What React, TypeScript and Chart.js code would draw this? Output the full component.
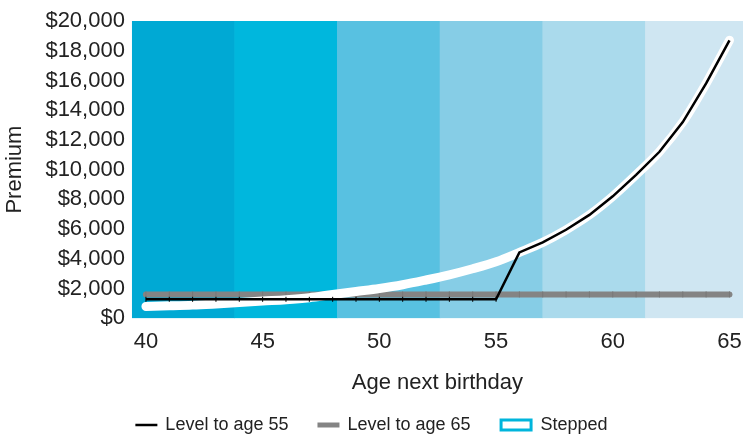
import React, { useEffect, useRef } from 'react';
import { Chart, registerables } from 'chart.js';

Chart.register(...registerables);

// ---- Data ----
const ages = [40, 41, 42, 43, 44, 45, 46, 47, 48, 49, 50, 51, 52, 53, 54, 55, 56, 57, 58, 59, 60, 61, 62, 63, 64, 65];

const steppedPremium = [790, 830, 880, 960, 1050, 1150, 1240, 1380, 1600, 1800, 2000, 2250, 2570, 2920, 3330, 3800, 4430, 5100, 5950, 6950, 8200, 9650, 11200, 13200, 15800, 18700];

const level55Premium = [1270, 1270, 1270, 1270, 1270, 1270, 1270, 1270, 1270, 1270, 1270, 1270, 1270, 1270, 1270, 1270, 4430, 5100, 5950, 6950, 8200, 9650, 11200, 13200, 15800, 18700];

const level65Premium = [1600, 1600, 1600, 1600, 1600, 1600, 1600, 1600, 1600, 1600, 1600, 1600, 1600, 1600, 1600, 1600, 1600, 1600, 1600, 1600, 1600, 1600, 1600, 1600, 1600, 1600];

// background age bands (centre age of each band, band top value)
const bandCenters = [41.6, 46.0, 50.4, 54.8, 59.2, 63.6];
const bandValues = [20000, 20000, 20000, 20000, 20000, 20000];
const bandColors = ['#00A9D4', '#00B7DD', '#58C1E1', '#86CDE6', '#AADAEC', '#CFE6F2'];

const xTickValues = [40, 45, 50, 55, 60, 65];
const xMin = 39.4;
const xMax = 65.58;
const yMin = 0;
const yMax = 20000;
const yStep = 2000;

const seriesNames = ['Level to age 55', 'Level to age 65', 'Stepped'];

const TEXT = '#222222';
const FONT = "'Liberation Sans', Arial, Helvetica, sans-serif";

const BLACK = '#000000';
const GREY = '#848484';
const WHITE = '#FFFFFF';
const CYAN = '#00B5DC';

// Legend drawn with the plugin API (line samples and a wider box sample)
const legendSamples = [
  { kind: 'line', color: BLACK, lw: 2.5, w: 22 },
  { kind: 'line', color: GREY, lw: 5, w: 22 },
  { kind: 'box', color: CYAN, fill: WHITE, lw: 3, w: 33, h: 13 },
];

const customLegend = {
  id: 'customLegend',
  afterDraw(chart: any) {
    const ctx = chart.ctx as CanvasRenderingContext2D;
    ctx.save();
    const fontSize = 18;
    ctx.font = `${fontSize}px ${FONT}`;
    const gapSampleText = 8;
    const gapItems = 29;
    const widths = seriesNames.map((t) => ctx.measureText(t).width);
    let total = 0;
    legendSamples.forEach((s, i) => {
      total += s.w + gapSampleText + widths[i];
    });
    total += gapItems * (seriesNames.length - 1);
    let x = (chart.width - total) / 2;
    const y = 425;
    legendSamples.forEach((s: any, i) => {
      if (s.kind === 'line') {
        ctx.beginPath();
        ctx.strokeStyle = s.color;
        ctx.lineWidth = s.lw;
        ctx.lineCap = 'butt';
        ctx.moveTo(x, y);
        ctx.lineTo(x + s.w, y);
        ctx.stroke();
      } else {
        const half = s.lw / 2;
        ctx.fillStyle = s.fill;
        ctx.fillRect(x + half, y - s.h / 2 + half, s.w - s.lw, s.h - s.lw);
        ctx.strokeStyle = s.color;
        ctx.lineWidth = s.lw;
        ctx.strokeRect(x + half, y - s.h / 2 + half, s.w - s.lw, s.h - s.lw);
      }
      x += s.w + gapSampleText;
      ctx.fillStyle = TEXT;
      ctx.textBaseline = 'middle';
      ctx.textAlign = 'left';
      ctx.fillText(seriesNames[i], x, y);
      x += widths[i] + gapItems;
    });
    ctx.restore();
  },
};

export default function App() {
  const ref = useRef<HTMLCanvasElement | null>(null);

  useEffect(() => {
    if (!ref.current) return;
    Chart.defaults.font.family = FONT;

    const toPts = (xs: number[], vals: number[]) => xs.map((a, i) => ({ x: a, y: vals[i] }));

    const chart = new Chart(ref.current, {
      type: 'line',
      data: {
        datasets: [
          {
            type: 'line',
            label: seriesNames[0],
            data: toPts(ages, level55Premium),
            borderColor: BLACK,
            backgroundColor: BLACK,
            borderWidth: 2.5,
            tension: 0,
            pointStyle: 'line',
            rotation: 90,
            pointRadius: (c: any) => (ages[c.dataIndex] <= 55 ? 2.5 : 0),
            pointBorderWidth: 1,
            pointBorderColor: BLACK,
            fill: false,
          },
          {
            type: 'line',
            label: seriesNames[2],
            data: toPts(ages, steppedPremium),
            borderColor: WHITE,
            backgroundColor: WHITE,
            borderWidth: 9,
            borderCapStyle: 'round',
            borderJoinStyle: 'round',
            cubicInterpolationMode: 'monotone',
            pointRadius: 0,
            fill: false,
          },
          {
            type: 'line',
            label: seriesNames[1],
            data: toPts(ages, level65Premium),
            borderColor: GREY,
            backgroundColor: GREY,
            borderWidth: 6,
            borderCapStyle: 'round',
            tension: 0,
            pointStyle: 'line',
            rotation: 90,
            pointRadius: 3,
            pointBorderWidth: 1,
            pointBorderColor: '#787878',
            fill: false,
          },
          {
            type: 'bar',
            label: 'bands',
            data: toPts(bandCenters, bandValues),
            backgroundColor: bandColors,
            borderWidth: 0,
            barPercentage: 1,
            categoryPercentage: 1,
            grouped: false,
          } as any,
        ],
      },
      options: {
        responsive: false,
        animation: false,
        events: [],
        layout: { autoPadding: false, padding: { top: 21, left: 0, right: 0, bottom: 40 } },
        plugins: {
          tooltip: { enabled: false },
          legend: { display: false },
        },
        scales: {
          x: {
            type: 'linear',
            min: xMin,
            max: xMax,
            offset: false,
            afterBuildTicks: (s: any) => {
              s.ticks = xTickValues.map((v) => ({ value: v }));
            },
            afterFit: (s: any) => {
              s.paddingRight = 0;
            },
            grid: { display: false, drawTicks: false },
            border: { display: false },
            ticks: {
              color: TEXT,
              font: { size: 22, family: FONT },
              padding: 11,
              maxRotation: 0,
              autoSkip: false,
            },
            title: {
              display: true,
              text: 'Age next birthday',
              color: TEXT,
              font: { size: 22, family: FONT },
              padding: { top: 3, bottom: 0 },
            },
          },
          y: {
            type: 'linear',
            min: yMin,
            max: yMax,
            grid: { display: false, drawTicks: false },
            border: { display: false },
            ticks: {
              stepSize: yStep,
              autoSkip: false,
              color: TEXT,
              font: { size: 22, family: FONT },
              padding: 7,
              callback: (v: any) => '$' + Number(v).toLocaleString('en-US'),
            },
            title: {
              display: true,
              text: 'Premium',
              color: TEXT,
              font: { size: 22, family: FONT },
              padding: { top: 2, bottom: 10 },
            },
          },
        },
      } as any,
      plugins: [customLegend],
    });

    return () => chart.destroy();
  }, []);

  return (
    <div style={{ position: 'fixed', left: 0, top: 0, width: 743, height: 436, background: '#fff' }}>
      <canvas ref={ref} width={743} height={436} style={{ display: 'block', width: 743, height: 436 }} />
    </div>
  );
}
